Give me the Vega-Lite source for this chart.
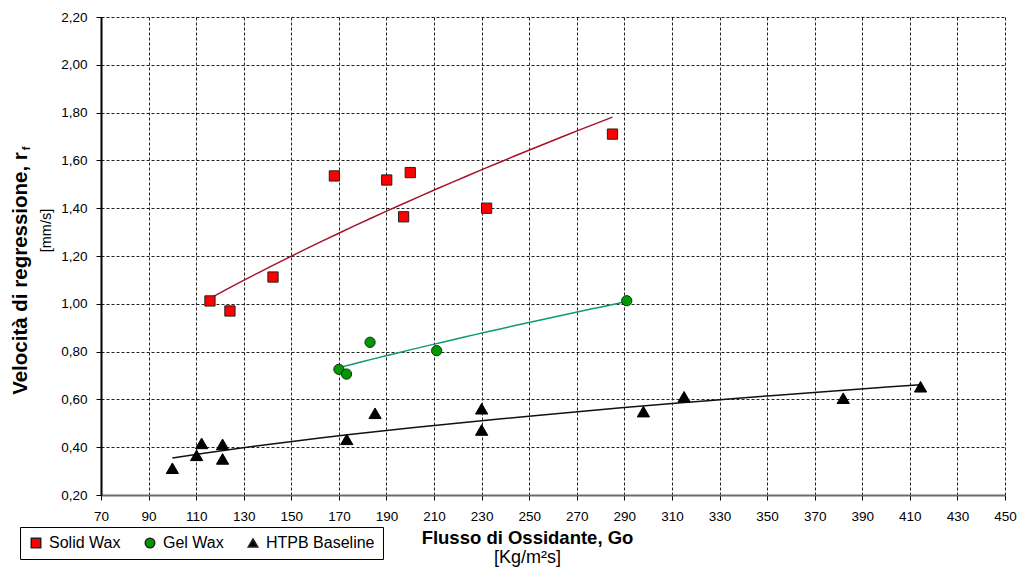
{
  "$schema": "https://vega.github.io/schema/vega-lite/v6.json",
  "width": 904,
  "height": 478,
  "autosize": {"type": "none"},
  "padding": {"left": 101, "top": 17, "right": 14, "bottom": 74},
  "background": "white",
  "data": {
    "values": [
      {"series": "Solid Wax", "G": 115.8, "r": 1.012},
      {"series": "Solid Wax", "G": 124.2, "r": 0.97},
      {"series": "Solid Wax", "G": 142.3, "r": 1.112},
      {"series": "Solid Wax", "G": 168.1, "r": 1.535},
      {"series": "Solid Wax", "G": 190.1, "r": 1.518},
      {"series": "Solid Wax", "G": 200.0, "r": 1.549},
      {"series": "Solid Wax", "G": 197.2, "r": 1.364},
      {"series": "Solid Wax", "G": 232.1, "r": 1.4},
      {"series": "Solid Wax", "G": 285.0, "r": 1.71},
      {"series": "Gel Wax", "G": 170.0, "r": 0.726},
      {"series": "Gel Wax", "G": 173.2, "r": 0.706},
      {"series": "Gel Wax", "G": 183.1, "r": 0.839},
      {"series": "Gel Wax", "G": 211.1, "r": 0.804},
      {"series": "Gel Wax", "G": 291.0, "r": 1.013},
      {"series": "HTPB Baseline", "G": 100.0, "r": 0.312},
      {"series": "HTPB Baseline", "G": 110.2, "r": 0.366},
      {"series": "HTPB Baseline", "G": 112.3, "r": 0.416},
      {"series": "HTPB Baseline", "G": 121.1, "r": 0.412},
      {"series": "HTPB Baseline", "G": 121.1, "r": 0.351},
      {"series": "HTPB Baseline", "G": 173.3, "r": 0.433},
      {"series": "HTPB Baseline", "G": 185.2, "r": 0.542},
      {"series": "HTPB Baseline", "G": 230.0, "r": 0.561},
      {"series": "HTPB Baseline", "G": 230.0, "r": 0.472},
      {"series": "HTPB Baseline", "G": 298.0, "r": 0.549},
      {"series": "HTPB Baseline", "G": 315.1, "r": 0.611},
      {"series": "HTPB Baseline", "G": 382.0, "r": 0.605},
      {"series": "HTPB Baseline", "G": 414.5, "r": 0.653}
    ]
  },
  "layer": [
    {
      "transform": [
        {"regression": "r", "on": "G", "groupby": ["series"], "method": "pow"}
      ],
      "mark": {"type": "line", "strokeWidth": 1.5},
      "encoding": {
        "x": {
          "field": "G",
          "type": "quantitative",
          "scale": {"domain": [70, 450], "nice": false, "zero": false},
          "axis": {
            "orient": "bottom",
            "values": [70, 90, 110, 130, 150, 170, 190, 210, 230, 250, 270, 290, 310, 330, 350, 370, 390, 410, 430, 450],
            "labelFontSize": 13.5,
            "labelPadding": 9,
            "labelFlush": false,
            "labelOverlap": false,
            "tickSize": 5,
            "tickColor": "#000",
            "domainColor": "#6b6b6b",
            "domainWidth": 2,
            "grid": true,
            "gridColor": "#222",
            "gridDash": [3, 2],
            "gridOpacity": 1,
            "title": "Flusso di Ossidante, Go",
            "titleFontSize": 18.5,
            "titleFontWeight": "bold",
            "titleX": 426,
            "titleY": 33
          }
        },
        "y": {
          "field": "r",
          "type": "quantitative",
          "scale": {"domain": [0.2, 2.2], "nice": false, "zero": false},
          "axis": {
            "orient": "left",
            "values": [0.2, 0.4, 0.6, 0.8, 1.0, 1.2, 1.4, 1.6, 1.8, 2.0, 2.2],
            "labelExpr": "replace(format(datum.value, '.2f'), '.', ',')",
            "labelFontSize": 13.5,
            "labelPadding": 9,
            "labelFlush": false,
            "labelOverlap": false,
            "tickSize": 5,
            "tickColor": "#000",
            "domainColor": "#000",
            "domainWidth": 2,
            "grid": true,
            "gridColor": "#222",
            "gridDash": [3, 2],
            "gridOpacity": 1,
            "title": "[mm/s]",
            "titleFontSize": 14.5,
            "titleFontWeight": "normal",
            "titleX": -48,
            "titleY": 213
          }
        },
        "detail": {"field": "series", "type": "nominal"},
        "stroke": {
          "field": "series",
          "type": "nominal",
          "scale": {"domain": ["HTPB Baseline", "Gel Wax", "Solid Wax"], "range": ["#111111", "#0e9a70", "#a8102a"]},
          "legend": null
        }
      }
    },
    {
      "transform": [{"filter": {"field": "series", "oneOf": ["Solid Wax", "Gel Wax"]}}],
      "mark": {"type": "point", "filled": true, "size": 105, "stroke": "#222", "strokeWidth": 1, "opacity": 1},
      "encoding": {
        "x": {
          "field": "G",
          "type": "quantitative",
          "axis": {
            "orient": "bottom",
            "labels": false,
            "ticks": false,
            "domain": false,
            "grid": false,
            "title": "[Kg/m²s]",
            "titleFontSize": 18,
            "titleFontWeight": "normal",
            "titleX": 426,
            "titleY": 53
          }
        },
        "y": {
          "field": "r",
          "type": "quantitative",
          "axis": {
            "orient": "left",
            "labels": false,
            "ticks": false,
            "domain": false,
            "grid": false,
            "title": "Velocità di regressione, r",
            "titleFontSize": 20.5,
            "titleFontWeight": "bold",
            "titleX": -71,
            "titleY": 256
          }
        },
        "shape": {
          "field": "series",
          "type": "nominal",
          "title": null,
          "scale": {"domain": ["Solid Wax", "Gel Wax", "HTPB Baseline"], "range": ["square", "circle", "triangle-up"]},
          "legend": {
            "orient": "none",
            "legendX": -81,
            "legendY": 510,
            "direction": "horizontal",
            "encode": {"symbols": {"update": {"stroke": {"value": "#000"}, "strokeWidth": {"value": 1}}}}
          }
        },
        "color": {
          "field": "series",
          "type": "nominal",
          "title": null,
          "scale": {"domain": ["Solid Wax", "Gel Wax", "HTPB Baseline"], "range": ["#ff0000", "#009a00", "#000000"]},
          "legend": {
            "orient": "none",
            "legendX": -81,
            "legendY": 510,
            "direction": "horizontal",
            "encode": {"symbols": {"update": {"stroke": {"value": "#000"}, "strokeWidth": {"value": 1}}}}
          }
        }
      }
    },
    {
      "transform": [{"filter": {"field": "series", "equal": "HTPB Baseline"}}],
      "mark": {"type": "point", "filled": true, "size": 150, "stroke": "#000", "strokeWidth": 1, "opacity": 1},
      "encoding": {
        "x": {"field": "G", "type": "quantitative", "axis": null},
        "y": {
          "field": "r",
          "type": "quantitative",
          "axis": {
            "orient": "left",
            "labels": false,
            "ticks": false,
            "domain": false,
            "grid": false,
            "title": "f",
            "titleFontSize": 11,
            "titleFontWeight": "bold",
            "titleX": -70,
            "titleY": 131
          }
        },
        "shape": {"field": "series", "type": "nominal", "title": null},
        "color": {"field": "series", "type": "nominal", "title": null}
      }
    }
  ],
  "resolve": {"axis": {"x": "independent", "y": "independent"}},
  "config": {
    "font": "Liberation Sans",
    "view": {"stroke": null},
    "axis": {"titleColor": "#000", "labelColor": "#000"},
    "legend": {
      "padding": 8,
      "strokeColor": "#000",
      "fillColor": "#fff",
      "columnPadding": 21,
      "labelFontSize": 16,
      "labelColor": "#000",
      "labelOffset": 5,
      "symbolSize": 90,
      "symbolOpacity": 1
    }
  }
}
